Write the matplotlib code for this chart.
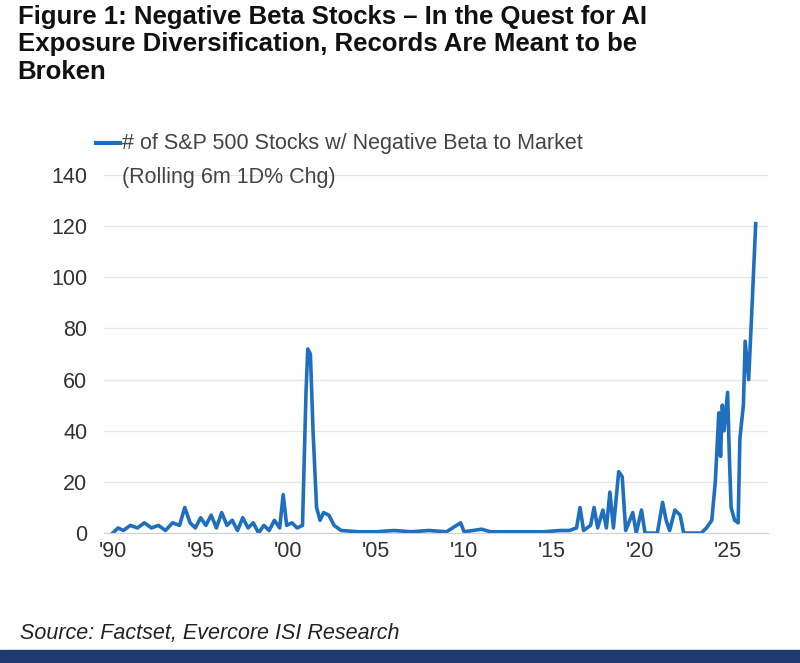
import matplotlib
matplotlib.use("Agg")
import matplotlib.pyplot as plt
from matplotlib.lines import Line2D
from matplotlib.patches import Rectangle

plt.rcParams['font.family'] = ['Liberation Sans', 'DejaVu Sans']

years = [1990.0,1990.3,1990.6,1991.0,1991.4,1991.8,1992.2,1992.6,1993.0,1993.4,1993.8,1994.1,1994.4,1994.7,
         1995.0,1995.3,1995.6,1995.9,1996.2,1996.5,1996.8,1997.1,1997.4,1997.7,1998.0,1998.3,1998.6,1998.9,
         1999.2,1999.5,1999.7,1999.9,2000.2,2000.5,2000.8,2001.0,2001.1,2001.25,2001.4,2001.6,2001.8,2002.0,
         2002.3,2002.6,2003.0,2004.0,2005.0,2006.0,2007.0,2008.0,2009.0,2009.8,2010.0,2011.0,2011.5,2012.5,
         2013.5,2014.5,2015.5,2016.0,2016.4,2016.6,2016.8,2017.2,2017.4,2017.6,2017.9,2018.1,2018.3,2018.5,
         2018.8,2019.0,2019.2,2019.6,2019.8,2020.1,2020.3,2021.0,2021.3,2021.5,2021.7,2022.0,2022.3,2022.5,
         2023.5,2023.8,2024.1,2024.3,2024.5,2024.6,2024.7,2024.8,2025.0,2025.1,2025.2,2025.4,2025.6,2025.7,
         2025.9,2026.0,2026.2,2026.4,2026.6]
values = [0,2,1,3,2,4,2,3,1,4,3,10,4,2,
          6,3,7,2,8,3,5,1,6,2,4,0,3,1,
          5,2,15,3,4,2,3,55,72,70,40,10,5,8,
          7,3,1,0.5,0.5,1,0.5,1,0.5,4,0.5,1.5,0.5,0.5,
          0.5,0.5,1,1,2,10,1,3,10,2,9,2,16,2,
          24,22,1,8,0,9,0,0,12,5,1,9,7,0,
          0,2,5,20,47,30,50,40,55,30,10,5,4,37,
          50,75,60,90,121]
xticks = [1990,1995,2000,2005,2010,2015,2020,2025]
xlabels = ["'90","'95","'00","'05","'10","'15","'20","'25"]
yticks = [0,20,40,60,80,100,120,140]

blue = '#1f6fbf'
fig = plt.figure(figsize=(8.0,6.63), dpi=100)
ax = fig.add_axes([0.13, 0.196, 0.83, 0.54])
ax.plot(years, values, color=blue, lw=2.6)
ax.set_xlim(1989.5, 2027.3)
ax.set_ylim(0, 140)
ax.set_xticks(xticks)
ax.set_xticklabels(xlabels)
ax.set_yticks(yticks)
ax.grid(axis='y', color='#e6e6e6', lw=1)
ax.set_axisbelow(True)
for s in ax.spines.values():
    s.set_visible(False)
ax.spines['bottom'].set_visible(True)
ax.spines['bottom'].set_color('#d0d0d0')
ax.tick_params(axis='y', length=0, labelsize=15.5, colors='#333333', pad=12)
ax.tick_params(axis='x', length=0, labelsize=15.5, colors='#333333', pad=6)

fig.text(0.022, 0.993, "Figure 1: Negative Beta Stocks \u2013 In the Quest for AI\nExposure Diversification, Records Are Meant to be\nBroken",
         fontsize=18.5, fontweight='bold', va='top', ha='left', color='#111111', linespacing=1.2)
fig.add_artist(Line2D([0.12, 0.15], [1-143/663]*2, color=blue, lw=3))
fig.text(0.152, 1-143/663, "# of S&P 500 Stocks w/ Negative Beta to Market", fontsize=15.5, va='center', color='#444444')
fig.text(0.152, 1-178/663, "(Rolling 6m 1D% Chg)", fontsize=15.5, va='center', color='#444444')
fig.text(0.025, 1-633/663, "Source: Factset, Evercore ISI Research", fontsize=15.5, style='italic', va='center', color='#222222')
fig.add_artist(Rectangle((0, 0), 1, 13/663, transform=fig.transFigure, color='#1f3a6e'))
fig.savefig("out.png", dpi=100, facecolor='white')
